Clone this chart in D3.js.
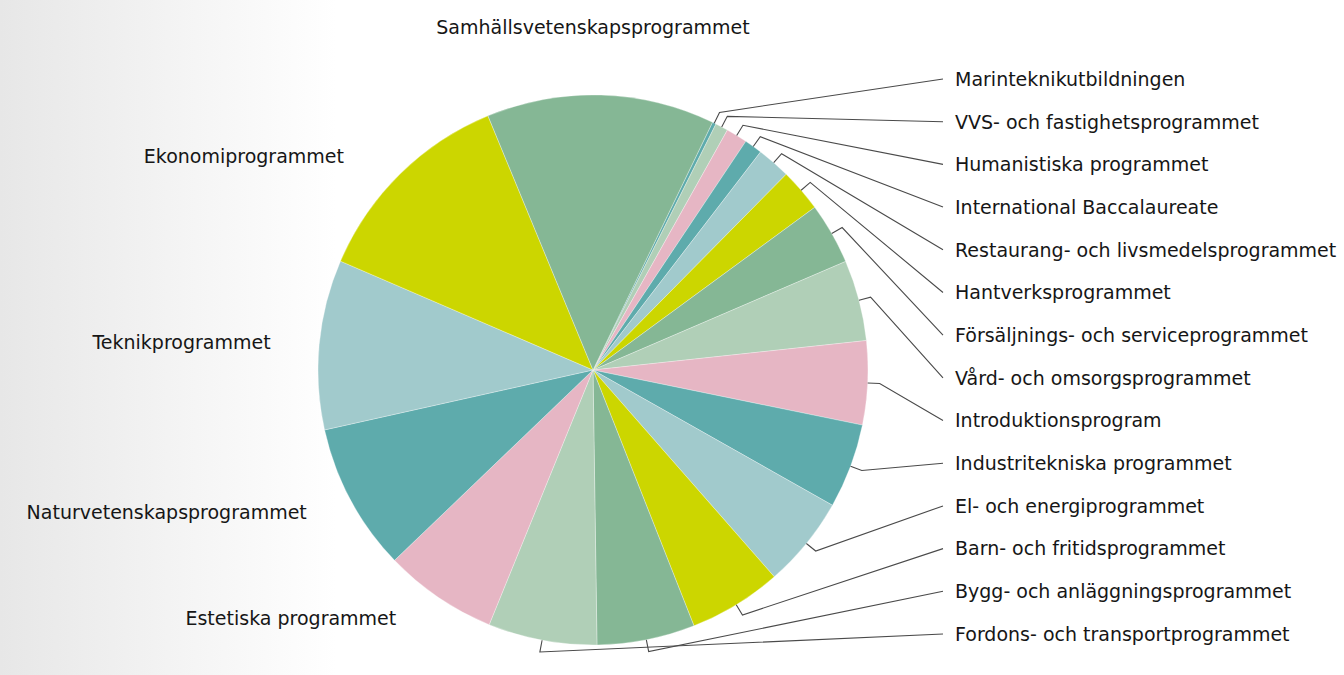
<!DOCTYPE html>
<html><head><meta charset="utf-8">
<script src="https://cdn.jsdelivr.net/npm/d3@7"></script>
<style>html,body{margin:0;padding:0;background:#fff;overflow:hidden;} svg{display:block;font-family:"DejaVu Sans",Verdana,sans-serif;}</style>
</head><body><svg id="c" width="1344" height="675"></svg>
<script>
// Programs in clockwise order, starting just right of the top
const programs = [
  "Marinteknikutbildningen",
  "VVS- och fastighetsprogrammet",
  "Humanistiska programmet",
  "International Baccalaureate",
  "Restaurang- och livsmedelsprogrammet",
  "Hantverksprogrammet",
  "Försäljnings- och serviceprogrammet",
  "Vård- och omsorgsprogrammet",
  "Introduktionsprogram",
  "Industritekniska programmet",
  "El- och energiprogrammet",
  "Barn- och fritidsprogrammet",
  "Bygg- och anläggningsprogrammet",
  "Fordons- och transportprogrammet",
  "Estetiska programmet",
  "Naturvetenskapsprogrammet",
  "Teknikprogrammet",
  "Ekonomiprogrammet",
  "Samhällsvetenskapsprogrammet"
];
// Share of students (%)
const shares = [0.22, 0.75, 1.25, 1.05, 1.97, 2.53, 3.61, 4.75, 4.92, 4.97, 5.36, 5.47, 5.75, 6.39, 6.67, 8.67, 9.97, 12.28, 13.39];
// Labels placed in the right-hand column
const rightLabels = programs.slice(0, 14);

const GREEN = "#85b795", TEAL = "#5eabac", LGREEN = "#b0cfb7", PINK = "#e6b6c4", LBLUE = "#a1cacc", YELLOW = "#ccd600";
const sliceColors = [TEAL, LGREEN, PINK, TEAL, LBLUE, YELLOW, GREEN, LGREEN, PINK, TEAL, LBLUE, YELLOW, GREEN, LGREEN, PINK, TEAL, LBLUE, YELLOW, GREEN];

const W = 1344, H = 675;
const cx = 593, cy = 370, R = 275;
const startDeg = 25.76;

const svg = d3.select("#c");
const defs = svg.append("defs");
const grad = defs.append("linearGradient").attr("id", "bg").attr("x1", "0").attr("x2", "1").attr("y1", "0").attr("y2", "0");
grad.append("stop").attr("offset", "0%").attr("stop-color", "#e7e7e7");
grad.append("stop").attr("offset", "25%").attr("stop-color", "#ffffff");
grad.append("stop").attr("offset", "100%").attr("stop-color", "#ffffff");
svg.append("rect").attr("width", W).attr("height", H).attr("fill", "url(#bg)");

const data = programs.map((p, i) => ({name: p, value: shares[i], color: sliceColors[i]}));
const start = startDeg * Math.PI / 180;
const pie = d3.pie().sort(null).value(d => d.value).startAngle(start).endAngle(start + 2 * Math.PI);
const arcs = pie(data);

const g = svg.append("g").attr("transform", `translate(${cx},${cy})`);
const arc = d3.arc().innerRadius(0).outerRadius(R);
g.selectAll("path.slice").data(arcs).join("path")
  .attr("class", "slice")
  .attr("d", arc)
  .attr("fill", d => d.data.color)
  .attr("stroke", "#ffffff").attr("stroke-width", 0.5).attr("stroke-opacity", 0.6);

const rimArc = d3.arc().innerRadius(R).outerRadius(R);
const bendArc = d3.arc().innerRadius(R + 12).outerRadius(R + 12);
const yRight = d3.scalePoint().domain(rightLabels).range([79, 634]);
const labelX = 955, lineEndX = 943;

const right = arcs.filter(d => rightLabels.includes(d.data.name));
const left = arcs.filter(d => !rightLabels.includes(d.data.name));

// connectors
g.selectAll("path.conn").data(right).join("path")
  .attr("class", "conn")
  .attr("fill", "none").attr("stroke", "#4a4a4a").attr("stroke-width", 1.1)
  .attr("d", d => {
    const a = rimArc.centroid(d), b = bendArc.centroid(d);
    return `M${a[0]},${a[1]}L${b[0]},${b[1]}L${lineEndX - cx},${yRight(d.data.name) - cy}`;
  });

svg.selectAll("text.rl").data(right).join("text")
  .attr("class", "rl")
  .attr("x", labelX).attr("y", d => yRight(d.data.name))
  .attr("dy", "0.36em")
  .attr("font-size", 19).attr("fill", "#161616")
  .text(d => d.data.name);

// left-side and top labels
const Ly = 300, Lx = 323, Lcy = 362;
svg.selectAll("text.ll").data(left).join("text")
  .attr("class", "ll")
  .each(function(d) {
    const mid = (d.startAngle + d.endAngle) / 2;
    const s = d3.select(this);
    const deg = ((mid * 180 / Math.PI) % 360 + 360) % 360;
    if (deg < 10 || deg > 350) {
      s.attr("x", cx).attr("y", cy - R - 68).attr("text-anchor", "middle");
    } else {
      const y = cy - Math.cos(mid) * Ly;
      const dy = y - Lcy;
      const x = cx - Math.sqrt(Math.max(0, Lx * Lx - dy * dy));
      s.attr("x", x).attr("y", y).attr("text-anchor", "end");
    }
  })
  .attr("dy", "0.36em")
  .attr("font-size", 19).attr("fill", "#161616")
  .text(d => d.data.name);
</script></body></html>
